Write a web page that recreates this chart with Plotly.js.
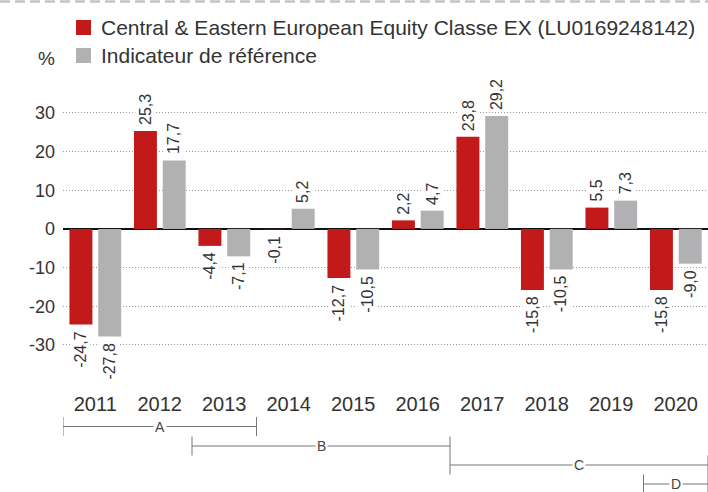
<!DOCTYPE html>
<html>
<head>
<meta charset="utf-8">
<script src="https://cdn.plot.ly/plotly-3.0.1.min.js"></script>
<style>html,body{margin:0;padding:0;background:#fff;}#chart{width:708px;height:492px;}</style>
</head>
<body>
<div id="chart"></div>
<script>
// ---- data ----
const years = [2011, 2012, 2013, 2014, 2015, 2016, 2017, 2018, 2019, 2020];
const fundValues = [-24.7, 25.3, -4.4, -0.1, -12.7, 2.2, 23.8, -15.8, 5.5, -15.8];
const benchValues = [-27.8, 17.7, -7.1, 5.2, -10.5, 4.7, 29.2, -10.5, 7.3, -9.0];
const seriesNames = ['Central & Eastern European Equity Classe EX (LU0169248142)', 'Indicateur de référence'];
const yTickVals = [-30, -20, -10, 0, 10, 20, 30];
const yAxisUnit = '%';
const periodLabels = ['A', 'B', 'C', 'D'];
const periodStart = [2010.5, 2012.5, 2016.5, 2019.5];
const periodEnd = [2013.5, 2016.5, 2020.5, 2020.5];

// ---- styling / layout constants ----
const W = 708, H = 492;
const M = {l: 63, r: 0, t: 90, b: 108};
const plotW = W - M.l - M.r, plotH = H - M.t - M.b;
const px2x = px => (px - M.l) / plotW;
const px2y = py => (H - M.b - py) / plotH;
const FONT = '"Liberation Sans", Arial, Helvetica, sans-serif';
const colors = ['#C21A1B', '#B1B1B3'];
const barWidth = 0.356;
const barOffsets = [-0.40, 0.046];
const fmt = v => (v < 0 ? '-' : '') + Math.abs(v).toFixed(1).replace('.', ',');
const fmtTick = v => (v < 0 ? '-' : '') + Math.abs(v);

const seriesValues = [fundValues, benchValues];
const traces = seriesValues.map((vals, i) => ({
  type: 'bar',
  x: years,
  y: vals,
  name: seriesNames[i],
  width: barWidth,
  offset: barOffsets[i],
  marker: {color: colors[i], line: {width: 0}},
  hoverinfo: 'skip',
  showlegend: false
}));

const annotations = [];
const shapes = [];

// value labels
seriesValues.forEach((vals, i) => {
  vals.forEach((v, k) => {
    const above = v >= 0;
    annotations.push({
      xref: 'x', yref: 'y',
      x: years[k] + barOffsets[i] + barWidth / 2,
      y: v,
      text: fmt(v),
      textangle: -90,
      showarrow: false,
      xanchor: 'center',
      yanchor: above ? 'bottom' : 'top',
      yshift: above ? 4 : -4,
      bgcolor: '#ffffff',
      borderpad: 1,
      font: {family: FONT, size: 16, color: '#333333'}
    });
  });
});

// custom legend
seriesNames.forEach((name, i) => {
  const cy = 27.5 + i * 28;
  shapes.push({
    type: 'rect', xref: 'paper', yref: 'paper',
    x0: px2x(76), x1: px2x(91), y0: px2y(cy - 7.5), y1: px2y(cy + 7.5),
    fillcolor: colors[i], line: {width: 0}
  });
  annotations.push({
    xref: 'paper', yref: 'paper', x: px2x(99), y: px2y(cy),
    xanchor: 'left', yanchor: 'middle', showarrow: false,
    text: name, font: {family: FONT, size: 21, color: '#333333'}
  });
});

// unit label
annotations.push({
  xref: 'paper', yref: 'paper', x: px2x(46), y: px2y(58),
  xanchor: 'center', yanchor: 'middle', showarrow: false,
  text: yAxisUnit, font: {family: FONT, size: 19, color: '#333333'}
});

// top dashed line
shapes.push({
  type: 'line', xref: 'paper', yref: 'paper',
  x0: px2x(0), x1: 1, y0: px2y(1.5), y1: px2y(1.5),
  line: {color: '#C4C4C4', width: 2.5, dash: '10px,5px'}
});

// period brackets
const periodY = [426.5, 446, 465, 484];
periodLabels.forEach((lab, i) => {
  const y = px2y(periodY[i]);
  const yt = px2y(periodY[i] - 9.5), yb = px2y(periodY[i] + 9.5);
  const lc = {color: '#777777', width: 1};
  shapes.push({type: 'line', xref: 'x', yref: 'paper', x0: periodStart[i], x1: periodEnd[i], y0: y, y1: y, line: lc});
  shapes.push({type: 'line', xref: 'x', yref: 'paper', x0: periodStart[i], x1: periodStart[i], y0: yt, y1: yb, line: lc});
  shapes.push({type: 'line', xref: 'x', yref: 'paper', x0: periodEnd[i], x1: periodEnd[i], y0: yt, y1: yb, line: lc});
  annotations.push({
    xref: 'x', yref: 'paper', x: (periodStart[i] + periodEnd[i]) / 2, y: y,
    xanchor: 'center', yanchor: 'middle', showarrow: false,
    text: lab, bgcolor: '#ffffff', borderpad: 1,
    font: {family: FONT, size: 14, color: '#444444'}
  });
});

const layout = {
  width: W, height: H,
  margin: M,
  paper_bgcolor: '#ffffff', plot_bgcolor: '#ffffff',
  font: {family: FONT, color: '#333333'},
  barmode: 'overlay',
  showlegend: false,
  xaxis: {
    range: [2010.5, 2020.5],
    tickvals: years,
    ticktext: years.map(String),
    showgrid: false, zeroline: false, showline: false,
    ticks: '',
    ticklabelstandoff: 6,
    tickfont: {family: FONT, size: 20, color: '#333333'},
    fixedrange: true
  },
  yaxis: {
    range: [-40.1, 35.9],
    tickvals: yTickVals,
    ticktext: yTickVals.map(fmtTick),
    showgrid: true,
    gridcolor: '#9a9a9a', gridwidth: 1, griddash: '1px,2px',
    zeroline: true, zerolinecolor: '#111111', zerolinewidth: 1.6,
    showline: false, ticks: '',
    ticklabelstandoff: 7,
    tickfont: {family: FONT, size: 18, color: '#333333'},
    fixedrange: true
  },
  annotations: annotations,
  shapes: shapes
};

Plotly.newPlot('chart', traces, layout, {displayModeBar: false, staticPlot: true});
</script>
</body>
</html>
